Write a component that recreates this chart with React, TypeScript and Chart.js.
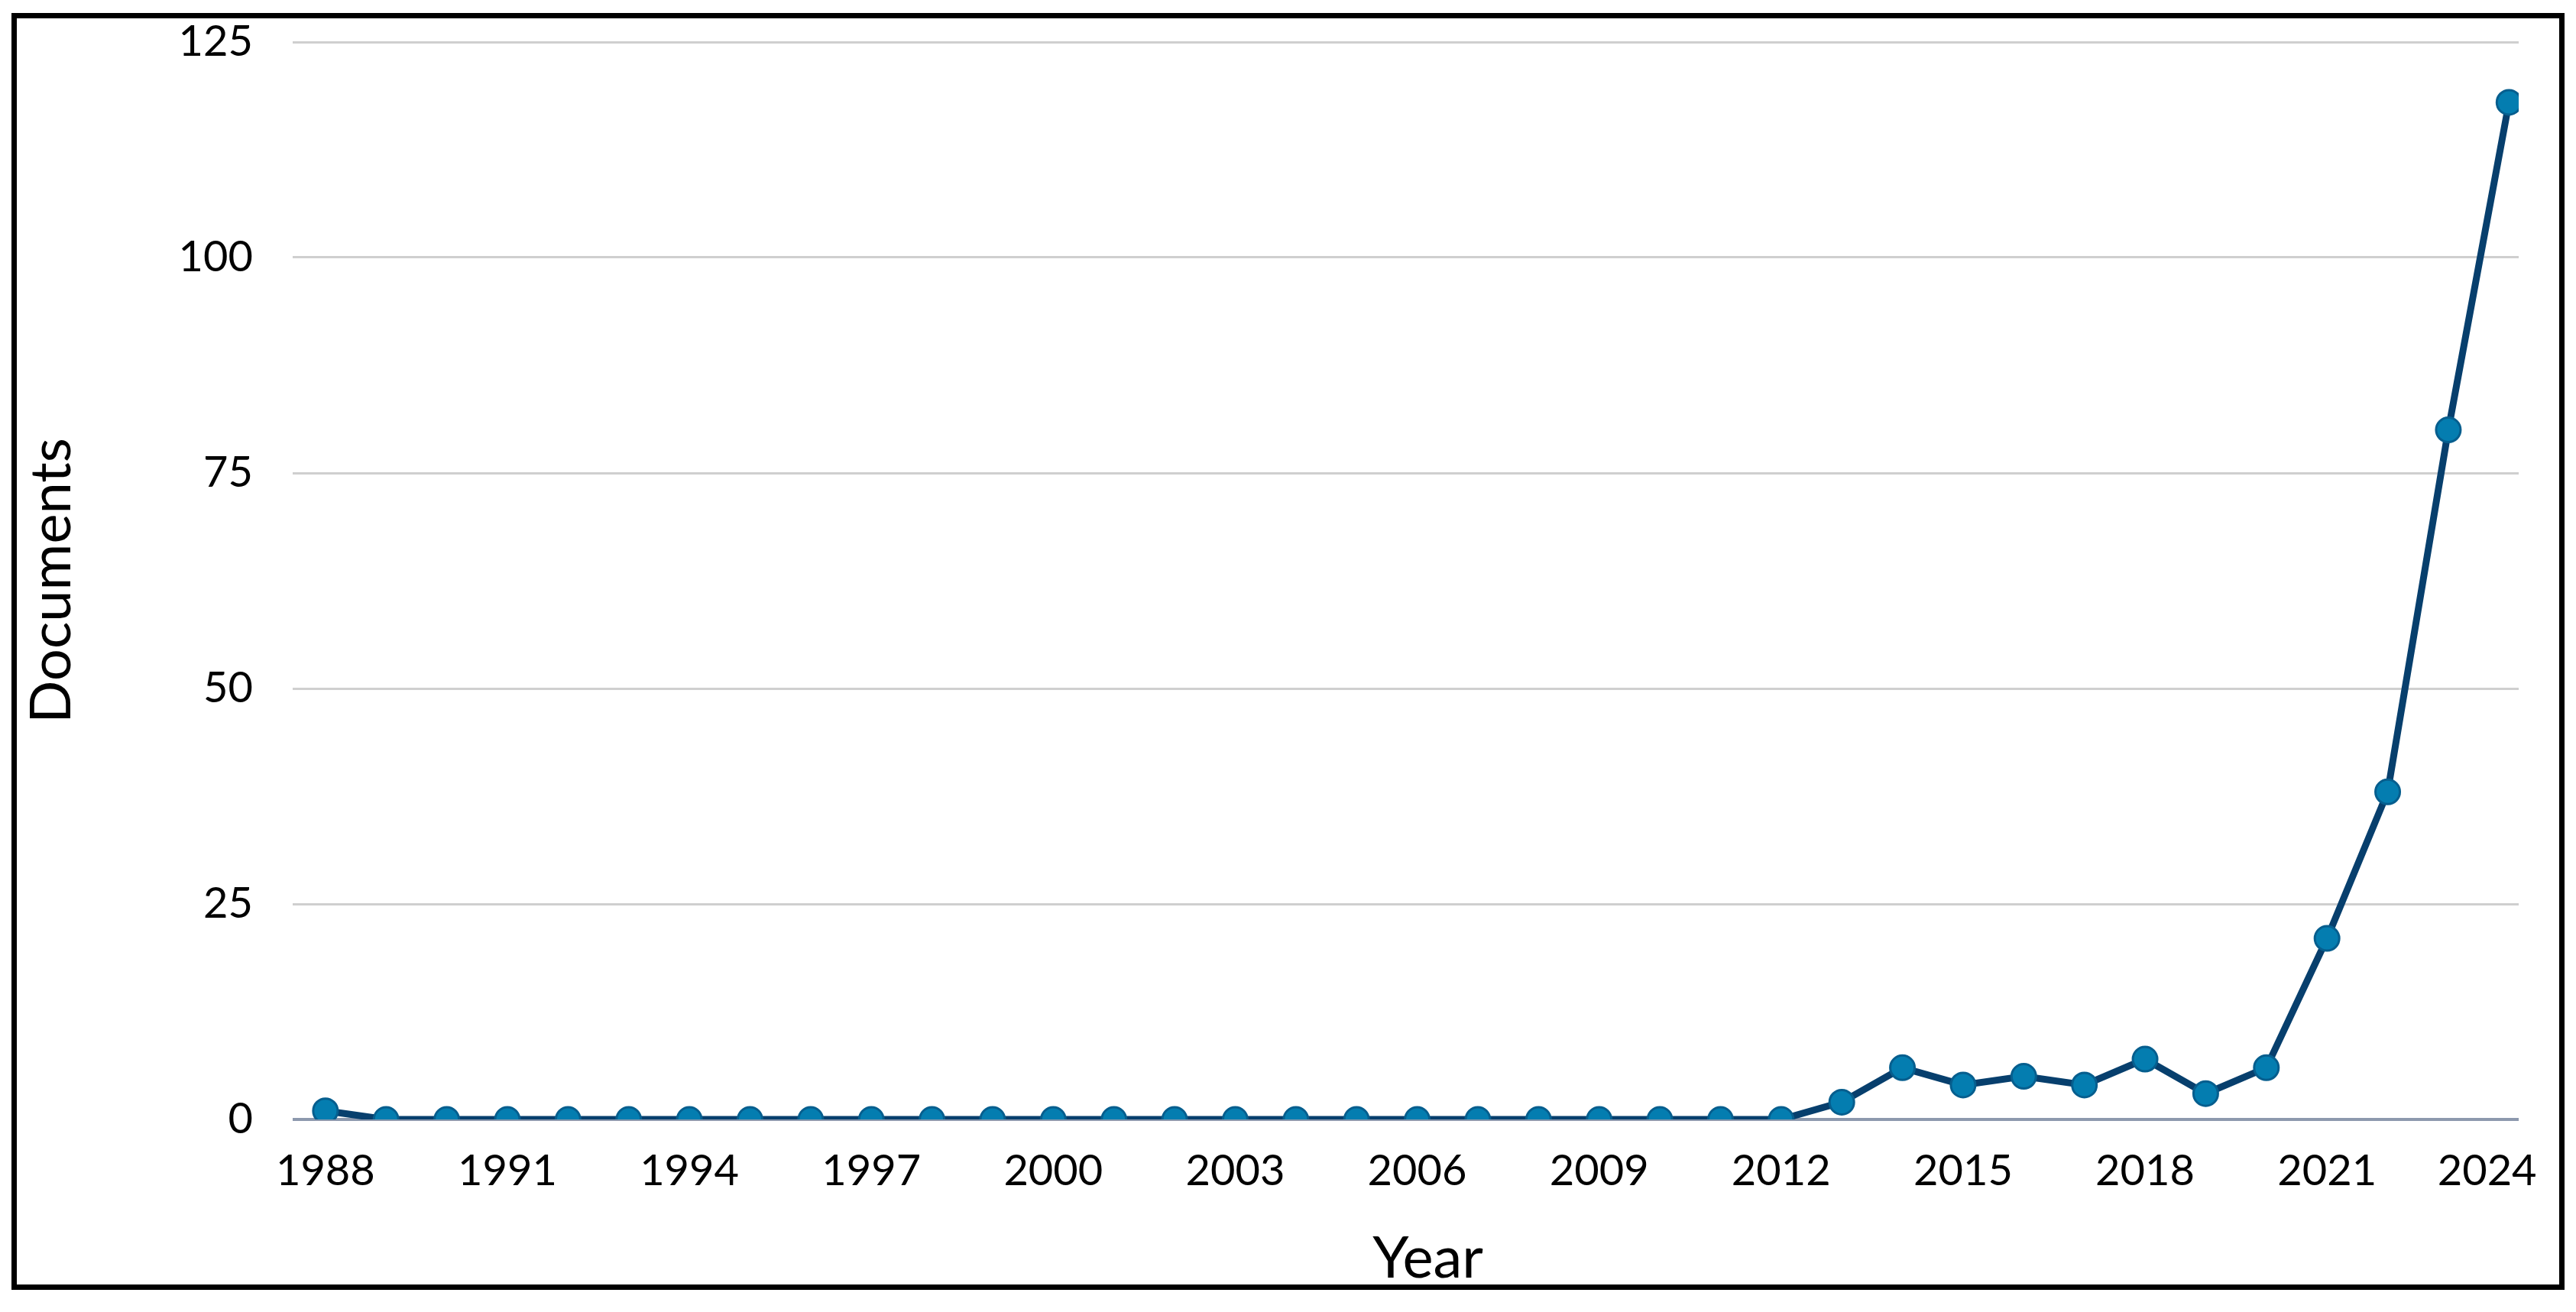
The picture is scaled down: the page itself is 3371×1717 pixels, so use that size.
import React, { useEffect, useRef } from 'react';
import { Chart, registerables } from 'chart.js';

Chart.register(...registerables);

const years = [
  1988, 1989, 1990, 1991, 1992, 1993, 1994, 1995, 1996, 1997,
  1998, 1999, 2000, 2001, 2002, 2003, 2004, 2005, 2006, 2007,
  2008, 2009, 2010, 2011, 2012, 2013, 2014, 2015, 2016, 2017,
  2018, 2019, 2020, 2021, 2022, 2023, 2024,
];

const documents = [
  1, 0, 0, 0, 0, 0, 0, 0, 0, 0,
  0, 0, 0, 0, 0, 0, 0, 0, 0, 0,
  0, 0, 0, 0, 0, 2, 6, 4, 5, 4,
  7, 3, 6, 21, 38, 80, 118,
];

const xTickLabels = [1988, 1991, 1994, 1997, 2000, 2003, 2006, 2009, 2012, 2015, 2018, 2021, 2024];

const xMin = 1987.46;
const xMax = 2024.16;
const yMin = 0;
const yMax = 125;
const yStep = 25;

const W = 3371;
const H = 1717;

export default function App() {
  const ref = useRef<HTMLCanvasElement>(null);

  useEffect(() => {
    const canvas = ref.current;
    if (!canvas) return;
    const points = years.map((yr, i) => ({ x: yr, y: documents[i] }));
    const lastYear = xTickLabels[xTickLabels.length - 1];
    const chart = new Chart(canvas, {
      type: 'line',
      data: {
        datasets: [
          {
            label: 'Documents',
            data: points,
            borderColor: '#073f6d',
            borderWidth: 9,
            tension: 0,
            pointRadius: 16,
            pointBorderWidth: 3,
            pointBackgroundColor: '#047db0',
            pointBorderColor: '#065e8e',
          },
        ],
      },
      options: {
        responsive: false,
        animation: false,
        layout: { autoPadding: false, padding: { left: 0, right: 75, top: 55, bottom: 20 } },
        plugins: {
          legend: { display: false },
          tooltip: { enabled: false },
        },
        scales: {
          x: {
            type: 'linear',
            min: xMin,
            max: xMax,
            grid: { display: false, drawTicks: false },
            border: { display: false },
            afterBuildTicks: (s: any) => {
              s.ticks = xTickLabels.map((v) => ({ value: v }));
            },
            ticks: {
              autoSkip: false,
              maxRotation: 0,
              minRotation: 0,
              padding: 34,
              color: '#000',
              font: { family: 'Lato', size: 56 },
              callback: (v: any) => (v === lastYear ? String(v) + '    ' : String(v)),
            },
            title: {
              display: true,
              text: '   Year',
              color: '#000',
              font: { family: 'Lato', size: 76 },
              padding: { top: 0, bottom: 4 },
            },
            afterFit: (s: any) => {
              s.height = H - 20 - 1465;
              s.paddingLeft = 0;
              s.paddingRight = 0;
            },
          },
          y: {
            min: yMin,
            max: yMax,
            grid: {
              drawTicks: false,
              color: (ctx: any) => (ctx.tick && ctx.tick.value === 0 ? '#8d99ae' : '#cfcfcf'),
              lineWidth: (ctx: any) => (ctx.tick && ctx.tick.value === 0 ? 4 : 3),
            },
            border: { display: false },
            ticks: {
              stepSize: yStep,
              padding: 52,
              color: '#000',
              font: { family: 'Lato', size: 56 },
            },
            title: {
              display: true,
              text: 'Documents',
              color: '#000',
              font: { family: 'Lato', size: 74 },
              padding: { top: 24, bottom: 0 },
            },
            afterFit: (s: any) => {
              s.width = 383;
              s.paddingTop = 0;
              s.paddingBottom = 0;
            },
          },
        },
      },
    });
    return () => chart.destroy();
  }, []);

  return (
    <div style={{ position: 'absolute', left: 0, top: 0, width: W, height: H, background: '#fff' }}>
      <canvas ref={ref} width={W} height={H} style={{ display: 'block', width: W, height: H }} />
      <div
        style={{
          position: 'absolute',
          left: 15,
          top: 17,
          width: 3341,
          height: 1671,
          border: '7px solid #000',
          boxSizing: 'border-box',
          pointerEvents: 'none',
        }}
      />
    </div>
  );
}
